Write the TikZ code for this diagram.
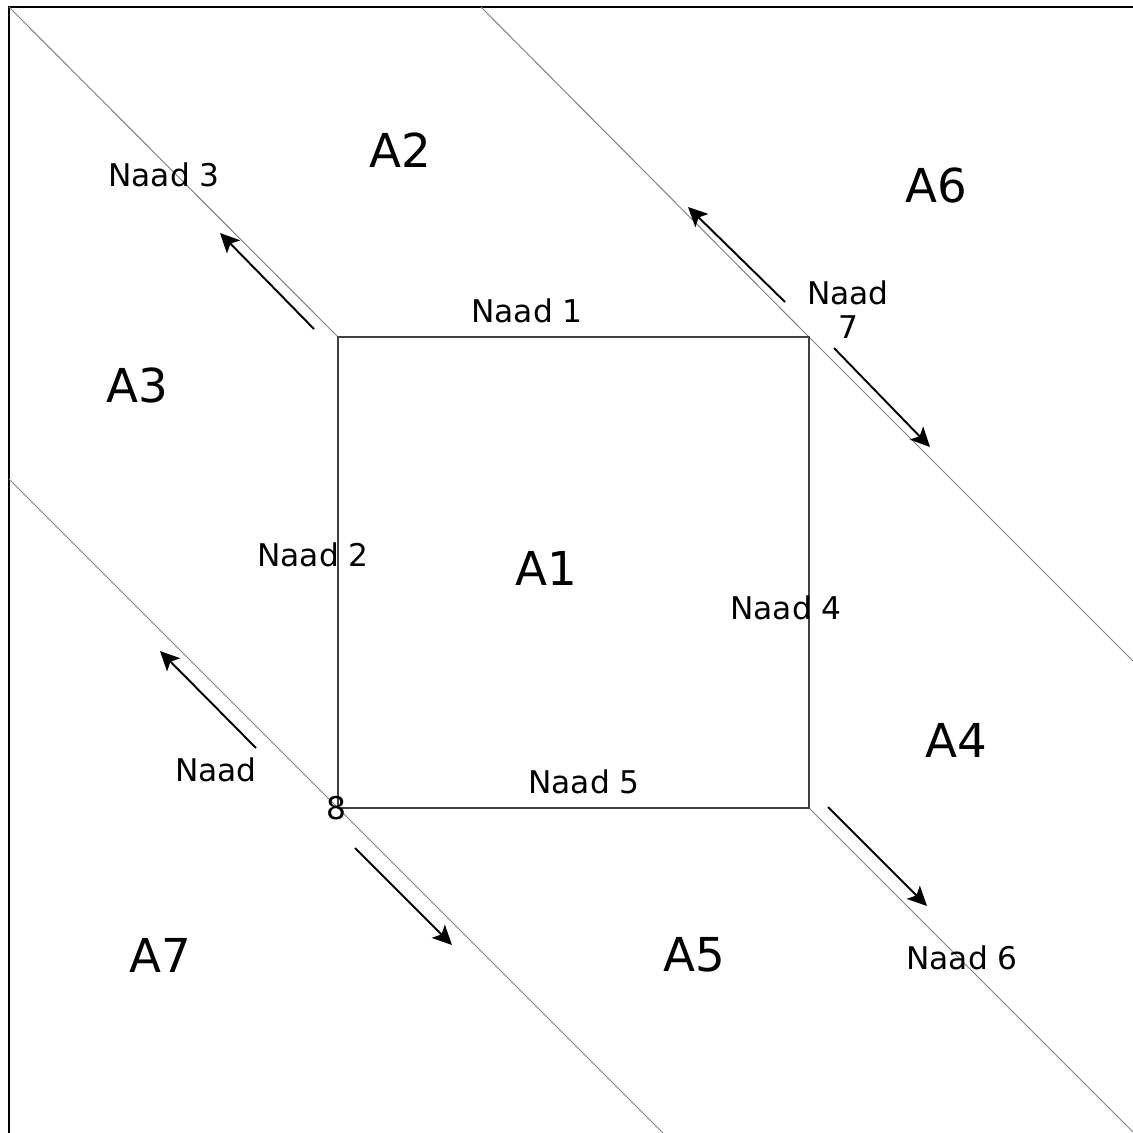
\documentclass[tikz,border=0pt]{standalone}
\usepackage{fontspec}
\setmainfont{DejaVu Sans}
\usetikzlibrary{arrows.meta}
\usetikzlibrary{backgrounds}

\tikzset{
	naad/.style={font=\fontsize{17.8}{19.3}\selectfont, inner sep=0pt, align=center},
	vlak/.style={font=\fontsize{26.6}{30}\selectfont, inner sep=0pt},
	pijl/.style={-{Stealth[length=11pt, width=10.5pt, inset=2.5pt]}, line width=1.1pt, black},
	seam/.style={color=gray, line width=0.55pt},
}

\begin{document}
\begin{tikzpicture}[x=0.02cm, y=-0.02cm, background rectangle/.style={fill=white}, show background rectangle]
	\useasboundingbox (0,0) rectangle (1133,1133);

	% corners of the middle square
	\coordinate (lb) at (338,337);
	\coordinate (rb) at (809,337);
	\coordinate (ro) at (809,808);
	\coordinate (lo) at (338,808);

	% outer edges (top and left)
	\draw[line width=0.85pt] (1133,7) -- (9,7) -- (9,1133);

	% seams
	\draw[seam] (9,7) -- (lb);
	\draw[seam] (481,7) -- (rb) -- (1133,661);
	\draw[seam] (9,479) -- (lo) -- (663,1133);
	\draw[seam] (ro) -- (1133,1132);

	% middle square
	\draw[color=darkgray, line width=0.7pt] (lb) -- (rb) -- (ro) -- (lo) -- cycle;

	% Arrows
	\draw[pijl] (314,329) -- (220,233);
	\draw[pijl] (785,302) -- (688,207);
	\draw[pijl] (834,348) -- (930,447);
	\draw[pijl] (256,748) -- (160,651);
	\draw[pijl] (355,848) -- (452,945);
	\draw[pijl] (828,807) -- (927,906);

	% Text nodes
	\node[vlak] (a1) at (546,568) {A1};
	\node[vlak] (a2) at (400,150) {A2};
	\node[vlak] (a3) at (137,385) {A3};
	\node[vlak] (a4) at (956,740) {A4};
	\node[vlak] (a5) at (694,955) {A5};
	\node[vlak] (a6) at (936,185) {A6};
	\node[vlak] (a7) at (160,955) {A7};

	\node[naad] (n1) at (527,311) {Naad 1};
	\node[naad] (n2) at (313,555) {Naad 2};
	\node[naad] (n3) at (164,175) {Naad 3};
	\node[naad] (n4) at (786,608) {Naad 4};
	\node[naad] (n5) at (584,782) {Naad 5};
	\node[naad] (n6) at (962,958) {Naad 6};
	\node[naad] (n7) at (848,310) {Naad\\7};
	\node[naad] (n8a) at (216,770) {Naad};
	\node[naad] (n8b) at (336,808) {8};
\end{tikzpicture}
\end{document}
